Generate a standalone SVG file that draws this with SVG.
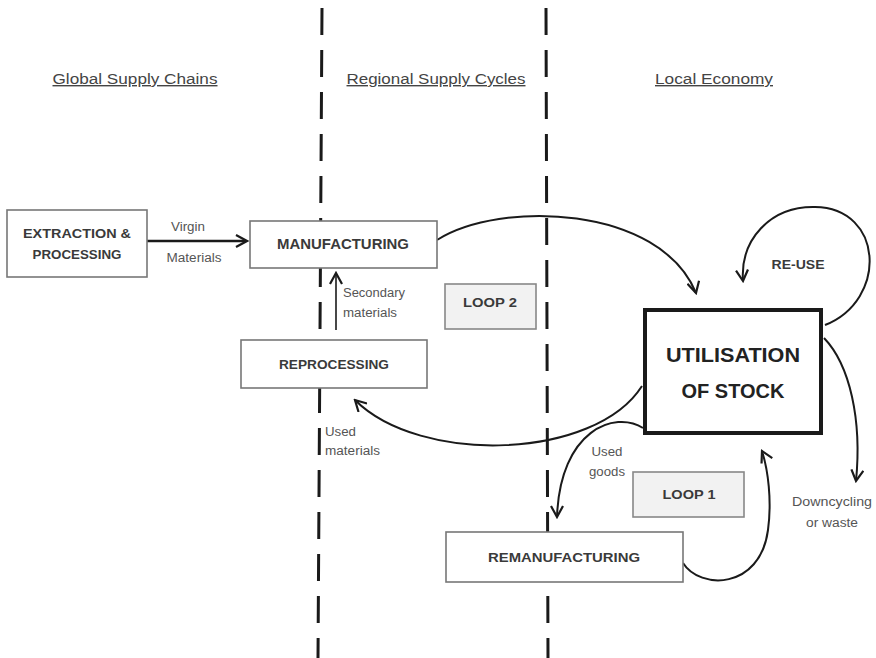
<svg xmlns="http://www.w3.org/2000/svg" width="876" height="658" viewBox="0 0 876 658">
<style>
.box{fill:#fff;stroke:#777;stroke-width:1.6}
.loop{fill:#f2f2f2;stroke:#888;stroke-width:1.6}
.lbl{font-family:"Liberation Sans",Arial,sans-serif;font-weight:bold;fill:#3a3a3a;text-anchor:middle}
.hdr{font-family:"Liberation Sans",Arial,sans-serif;font-size:14px;fill:#444;text-anchor:middle;text-decoration:underline}
.sm{font-family:"Liberation Sans",Arial,sans-serif;font-size:12px;fill:#555}
.dash{stroke:#1a1a1a;stroke-width:3;stroke-dasharray:27 15;fill:none}
.con{fill:none;stroke:#1a1a1a;stroke-width:2}
</style>
<defs>
<marker id="ah" viewBox="0 0 14 14" refX="12" refY="7" markerWidth="14" markerHeight="14" orient="auto" markerUnits="userSpaceOnUse">
<path d="M1,1 L12,7 L1,13" fill="none" stroke="#1a1a1a" stroke-width="2.2"/>
</marker>
</defs>
<rect width="876" height="658" fill="#fff"/>
<g id="dividers">
<line class="dash" x1="322" y1="8" x2="318" y2="658"/>
<line class="dash" x1="546" y1="8" x2="548" y2="658"/>
</g>
<g id="headers">
<text class="hdr" x="135" y="84" textLength="165" lengthAdjust="spacingAndGlyphs">Global Supply Chains</text>
<text class="hdr" x="436" y="84" textLength="179" lengthAdjust="spacingAndGlyphs">Regional Supply Cycles</text>
<text class="hdr" x="714" y="84" textLength="118" lengthAdjust="spacingAndGlyphs">Local Economy</text>
</g>
<g id="connectors">
<line class="con" x1="147" y1="241" x2="246" y2="241" style="stroke-width:2.6"/>
<line class="con" x1="336" y1="330" x2="336" y2="274" style="stroke-width:1.6"/>
<path class="con" d="M437,240 C500,200 660,205 696,293"/>
<path class="con" d="M825,325 C888,300 884,208 815,207 C770,206 740,240 743,281"/>
<path class="con" d="M642,386 C595,460 420,465 355,400"/>
<path class="con" d="M643,428 C615,410 560,430 557,517"/>
<path class="con" d="M683,563 C700,590 760,590 768,530 C772,500 768,470 762,451"/>
<path class="con" d="M824,338 C850,365 862,420 856,481"/>
<path d="M146,241 L247,241" fill="none" stroke="none" marker-end="url(#ah)"/>
<path d="M336,290 L336,273" fill="none" stroke="none" marker-end="url(#ah)"/>
<path d="M660,205 C680,240 690,270 696,293" fill="none" stroke="none" marker-end="url(#ah)"/>
<path d="M740,240 C741,260 742,270 743,281" fill="none" stroke="none" marker-end="url(#ah)"/>
<path d="M420,465 C390,440 370,415 355,400" fill="none" stroke="none" marker-end="url(#ah)"/>
<path d="M560,430 C558,470 557,500 557,517" fill="none" stroke="none" marker-end="url(#ah)"/>
<path d="M768,470 C766,460 764,455 762,451" fill="none" stroke="none" marker-end="url(#ah)"/>
<path d="M862,420 C860,450 858,465 856,481" fill="none" stroke="none" marker-end="url(#ah)"/>
<text class="sm" x="188" y="231" text-anchor="middle" textLength="34" lengthAdjust="spacingAndGlyphs">Virgin</text>
<text class="sm" x="194" y="262" text-anchor="middle" textLength="55" lengthAdjust="spacingAndGlyphs">Materials</text>
<text class="sm" x="343" y="297" textLength="62" lengthAdjust="spacingAndGlyphs">Secondary</text>
<text class="sm" x="343" y="317" textLength="54" lengthAdjust="spacingAndGlyphs">materials</text>
<text class="sm" x="325" y="436" textLength="31" lengthAdjust="spacingAndGlyphs">Used</text>
<text class="sm" x="325" y="455" textLength="55" lengthAdjust="spacingAndGlyphs">materials</text>
<text class="sm" x="607" y="456" text-anchor="middle" textLength="31" lengthAdjust="spacingAndGlyphs">Used</text>
<text class="sm" x="607" y="476" text-anchor="middle" textLength="36" lengthAdjust="spacingAndGlyphs">goods</text>
<text class="sm" x="832" y="506" text-anchor="middle" textLength="80" lengthAdjust="spacingAndGlyphs">Downcycling</text>
<text class="sm" x="832" y="527" text-anchor="middle" textLength="52" lengthAdjust="spacingAndGlyphs">or waste</text>
<text class="lbl" x="798" y="269" font-size="13" textLength="53" lengthAdjust="spacingAndGlyphs">RE-USE</text>
</g>
<g id="extraction">
<rect class="box" x="7" y="210" width="140" height="67"/>
<text class="lbl" x="77" y="238" font-size="13" textLength="108" lengthAdjust="spacingAndGlyphs">EXTRACTION &amp;</text>
<text class="lbl" x="77" y="259" font-size="13" textLength="89" lengthAdjust="spacingAndGlyphs">PROCESSING</text>
</g>
<g id="manufacturing">
<rect class="box" x="250" y="221" width="187" height="47"/>
<text class="lbl" x="343" y="249" font-size="14" textLength="132" lengthAdjust="spacingAndGlyphs">MANUFACTURING</text>
</g>
<g id="reprocessing">
<rect class="box" x="241" y="340" width="186" height="48"/>
<text class="lbl" x="334" y="369" font-size="13" textLength="110" lengthAdjust="spacingAndGlyphs">REPROCESSING</text>
</g>
<g id="loop2">
<rect class="loop" x="445" y="284" width="91" height="45"/>
<text class="lbl" x="490" y="307" font-size="13" textLength="54" lengthAdjust="spacingAndGlyphs">LOOP 2</text>
</g>
<g id="utilisation">
<rect x="645" y="310" width="176" height="123" fill="#fff" stroke="#1a1a1a" stroke-width="4"/>
<text class="lbl" x="733" y="362" font-size="21" style="fill:#222" textLength="134" lengthAdjust="spacingAndGlyphs">UTILISATION</text>
<text class="lbl" x="733" y="398" font-size="21" style="fill:#222" textLength="103" lengthAdjust="spacingAndGlyphs">OF STOCK</text>
</g>
<g id="loop1">
<rect class="loop" x="633" y="472" width="111" height="45"/>
<text class="lbl" x="689" y="499" font-size="13" textLength="53" lengthAdjust="spacingAndGlyphs">LOOP 1</text>
</g>
<g id="remanufacturing">
<rect class="box" x="446" y="532" width="237" height="50"/>
<text class="lbl" x="564" y="562" font-size="13" textLength="152" lengthAdjust="spacingAndGlyphs">REMANUFACTURING</text>
</g>
</svg>
